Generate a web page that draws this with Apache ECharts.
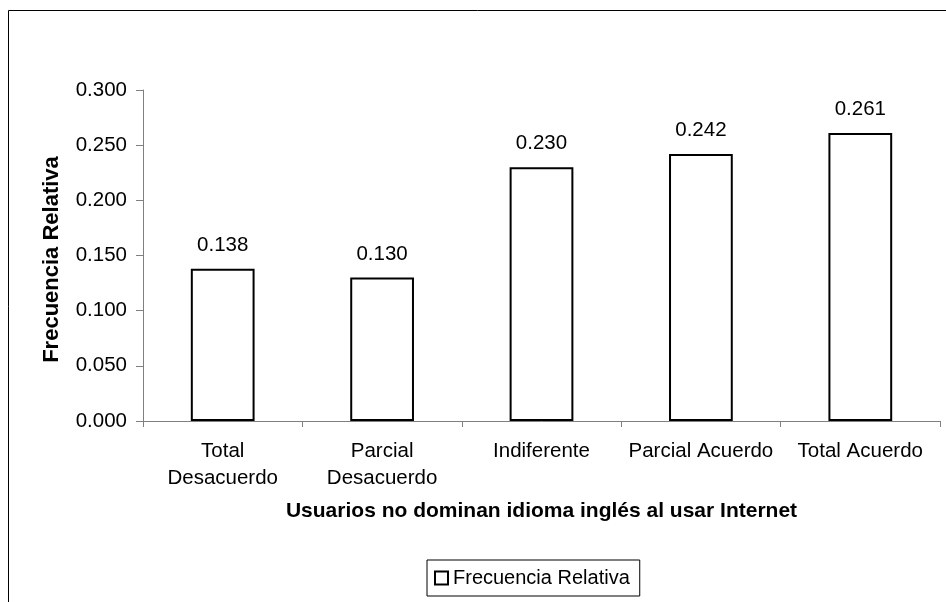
<!DOCTYPE html>
<html>
<head>
<meta charset="utf-8">
<script src="https://cdn.jsdelivr.net/npm/echarts@6/dist/echarts.min.js"></script>
<style>
html,body{margin:0;padding:0;background:#fff;}
#c{width:946px;height:602px;}
</style>
</head>
<body>
<div id="c"></div>
<script>
const categories = ['Total\nDesacuerdo', 'Parcial\nDesacuerdo', 'Indiferente', 'Parcial Acuerdo', 'Total Acuerdo'];
const values = [0.138, 0.130, 0.230, 0.242, 0.261];
const seriesName = 'Frecuencia Relativa';
const xAxisTitle = 'Usuarios no dominan idioma inglés al usar Internet';
const yAxisTitle = 'Frecuencia Relativa';

const chart = echarts.init(document.getElementById('c'), null, {renderer: 'canvas'});
const font = 'Liberation Sans, Arial, sans-serif';
chart.setOption({
  animation: false,
  backgroundColor: '#fff',
  textStyle: {fontFamily: font},
  graphic: [{
    type: 'rect',
    shape: {x: 8.5, y: 10.5, width: 1200, height: 1200},
    style: {fill: 'none', stroke: '#000', lineWidth: 1},
    silent: true,
    z: -10
  }],
  grid: {left: 143, right: 6, top: 90, bottom: 181},
  xAxis: {
    type: 'category',
    data: categories,
    boundaryGap: true,
    axisLine: {show: true, lineStyle: {color: '#808080', width: 1}},
    axisTick: {show: true, length: 6, lineStyle: {color: '#808080'}},
    axisLabel: {color: '#000', fontSize: 20.5, fontFamily: font, margin: 17, lineHeight: 27, interval: 0},
    name: xAxisTitle,
    nameLocation: 'middle',
    nameGap: 80,
    nameTextStyle: {color: '#000', fontSize: 21, fontWeight: 'bold', fontFamily: font}
  },
  yAxis: {
    type: 'value',
    min: 0, max: 0.3, interval: 0.05,
    axisLine: {show: true, lineStyle: {color: '#808080', width: 1}},
    axisTick: {show: true, length: 7, lineStyle: {color: '#808080'}},
    splitLine: {show: false},
    axisLabel: {color: '#000', fontSize: 20.5, fontFamily: font, margin: 16, formatter: v => v.toFixed(3)},
    name: yAxisTitle,
    nameLocation: 'middle',
    nameRotate: 90,
    nameGap: 80,
    nameTextStyle: {color: '#000', fontSize: 22, fontWeight: 'bold', fontFamily: font, padding: [0, 0, 0, -8]}
  },
  legend: {
    show: true,
    top: 560,
    left: 427,
    data: [seriesName],
    icon: 'rect',
    itemWidth: 13,
    itemHeight: 13,
    itemGap: 4,
    padding: [8, 10, 8, 7],
    borderColor: '#000',
    borderWidth: 1,
    borderRadius: 0,
    textStyle: {color: '#000', fontSize: 20, fontFamily: font}
  },
  series: [{
    name: seriesName,
    type: 'bar',
    data: values,
    barWidth: '40%',
    itemStyle: {color: '#fff', borderColor: '#000', borderWidth: 2},
    label: {show: true, position: 'top', distance: 13, color: '#000', fontSize: 20.5, fontFamily: font, formatter: p => p.value.toFixed(3)}
  }]
});
</script>
</body>
</html>
